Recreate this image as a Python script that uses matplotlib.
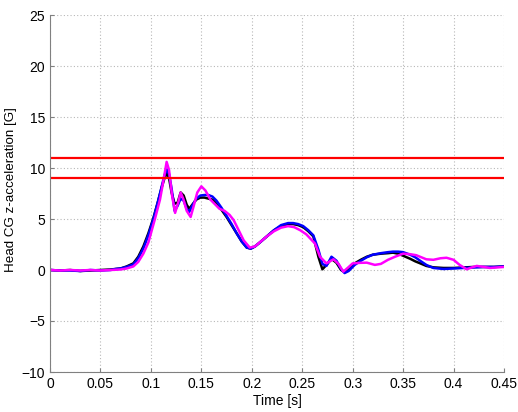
import matplotlib
matplotlib.use("Agg")
import matplotlib.pyplot as plt
from matplotlib.ticker import FormatStrFormatter

plt.rcParams['font.family'] = ['Liberation Sans', 'DejaVu Sans']
plt.rcParams['font.size'] = 10

# Head CG z-acceleration traces [G] vs time [s]
t_black = [0, 0.01, 0.02, 0.03, 0.04, 0.05, 0.06, 0.065, 0.07, 0.076,
           0.0826, 0.0875, 0.0925, 0.0975, 0.1025, 0.107, 0.111, 0.1135, 0.1158, 0.118,
           0.1205, 0.1235, 0.1265, 0.1295, 0.1325, 0.1355, 0.138, 0.141, 0.145, 0.149,
           0.153, 0.157, 0.161, 0.165, 0.170, 0.175, 0.180, 0.185, 0.190, 0.195,
           0.199, 0.203, 0.208, 0.215, 0.222, 0.229, 0.236, 0.241, 0.246, 0.251,
           0.256, 0.261, 0.266, 0.270, 0.274, 0.279, 0.284, 0.2885, 0.292, 0.296,
           0.302, 0.308, 0.314, 0.320, 0.328, 0.335, 0.340, 0.345, 0.350, 0.357,
           0.362, 0.367, 0.373, 0.380, 0.39, 0.40, 0.41, 0.42, 0.43, 0.44,
           0.45]
y_black = [0.0, -0.05, 0.0, -0.1, -0.05, 0.0, 0.05, 0.1, 0.15, 0.35,
           0.65, 1.3, 2.3, 3.6, 5.1, 6.7, 8.2, 9.0, 9.5, 9.0,
           7.6, 6.5, 6.6, 7.6, 7.3, 6.4, 6.0, 6.4, 6.9, 7.1,
           7.1, 7.0, 6.9, 6.5, 5.9, 5.2, 4.4, 3.6, 2.8, 2.2,
           2.1, 2.3, 2.7, 3.3, 3.9, 4.3, 4.5, 4.5, 4.4, 4.2,
           3.8, 3.3, 1.3, 0.07, 0.5, 1.1, 0.7, 0.0, -0.2, 0.1,
           0.65, 1.0, 1.3, 1.5, 1.6, 1.65, 1.7, 1.6, 1.4, 1.1,
           0.85, 0.65, 0.4, 0.26, 0.2, 0.2, 0.25, 0.3, 0.3, 0.3,
           0.35]

t_blue = t_black
y_blue = [0.0, -0.05, -0.05, -0.1, 0.0, -0.05, 0.0, 0.1, 0.15, 0.3,
          0.55, 1.15, 2.1, 3.4, 5.0, 6.7, 8.3, 9.3, 9.85, 9.4,
          8.0, 5.8, 6.3, 7.0, 6.8, 6.0, 5.7, 6.3, 7.0, 7.3,
          7.35, 7.35, 7.2, 6.8, 6.1, 5.3, 4.5, 3.6, 2.8, 2.2,
          2.1, 2.3, 2.7, 3.3, 3.9, 4.4, 4.6, 4.6, 4.5, 4.3,
          3.9, 3.4, 2.0, 0.6, 0.4, 1.3, 0.9, 0.1, -0.3, -0.1,
          0.5, 0.9, 1.25, 1.5, 1.65, 1.75, 1.8, 1.8, 1.75, 1.5,
          1.25, 0.9, 0.5, 0.2, 0.1, 0.15, 0.2, 0.25, 0.3, 0.3,
          0.35]

t_mag = [0, 0.01, 0.02, 0.03, 0.04, 0.05, 0.06, 0.07, 0.076, 0.0826,
         0.0875, 0.0925, 0.0975, 0.104, 0.109, 0.1125, 0.1156, 0.118, 0.121, 0.124,
         0.127, 0.1295, 0.132, 0.1355, 0.1394, 0.1425, 0.146, 0.150, 0.154, 0.159,
         0.164, 0.168, 0.173, 0.178, 0.182, 0.187, 0.192, 0.198, 0.203, 0.209,
         0.215, 0.222, 0.229, 0.236, 0.242, 0.248, 0.254, 0.2626, 0.2676, 0.274,
         0.281, 0.286, 0.2907, 0.295, 0.300, 0.307, 0.314, 0.322, 0.328, 0.335,
         0.342, 0.350, 0.357, 0.363, 0.368, 0.373, 0.380, 0.387, 0.393, 0.400,
         0.406, 0.413, 0.418, 0.423, 0.430, 0.436, 0.443, 0.45]
y_mag = [0.0, -0.05, 0.0, -0.05, 0.0, -0.05, 0.0, 0.05, 0.15, 0.35,
         0.8, 1.6, 2.7, 5.0, 6.9, 8.8, 10.6, 9.8, 7.3, 5.6,
         6.6, 7.6, 7.0, 5.8, 5.2, 6.3, 7.6, 8.2, 7.8, 6.9,
         6.4, 6.0, 5.8, 5.4, 4.9, 3.9, 2.9, 2.2, 2.3, 2.8,
         3.3, 3.8, 4.15, 4.3, 4.2, 3.9, 3.5, 2.6, 1.3, 0.65,
         1.05, 0.6, -0.16, 0.2, 0.65, 0.7, 0.72, 0.5, 0.6, 1.0,
         1.3, 1.6, 1.55, 1.45, 1.25, 1.05, 1.0, 1.15, 1.2, 1.0,
         0.5, 0.07, 0.25, 0.4, 0.3, 0.2, 0.25, 0.3]

limits = [9, 11]

fig = plt.figure(figsize=(5.18, 4.12), dpi=100)
ax = fig.add_axes([50 / 518, 40 / 412, 454 / 518, 357 / 412])

ax.plot(t_black, y_black, color="black", lw=1.8)
ax.plot(t_blue, y_blue, color="#0000ff", lw=1.8)
ax.plot(t_mag, y_mag, color="#ff00ff", lw=1.8)
for lim in limits:
    ax.axhline(lim, color="#ff0000", lw=1.6)

ax.set_xlim(0, 0.45)
ax.set_ylim(-10, 25)
ax.set_xticks([i * 0.05 for i in range(10)])
ax.set_yticks(range(-10, 26, 5))
ax.xaxis.set_major_formatter(FormatStrFormatter('%g'))

ax.grid(True, linestyle=(0, (1, 2)), color="#b8b8b8", lw=0.8)
for side in ["top", "right"]:
    ax.spines[side].set_visible(False)
for side in ["left", "bottom"]:
    ax.spines[side].set_color("#808080")
ax.tick_params(direction="in", length=3, color="#808080", labelsize=10)

ax.set_xlabel("Time [s]", labelpad=2)
ax.set_ylabel("Head CG z-acceleration [G]", fontsize=9.6)
ax.yaxis.set_label_coords(-0.073, 0.51)

fig.savefig("out.png", dpi=100)
